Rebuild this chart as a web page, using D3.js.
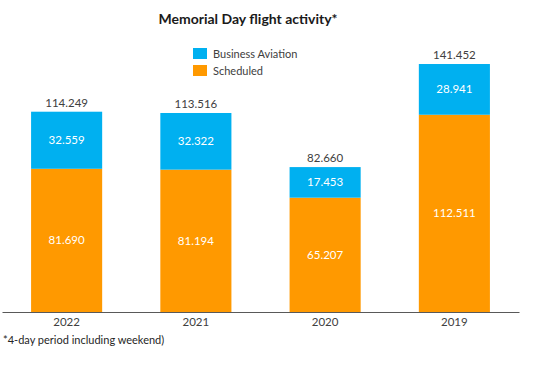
<!DOCTYPE html>
<html>
<head>
<meta charset="utf-8">
<script src="https://cdn.jsdelivr.net/npm/d3@7"></script>
<style>
  body { margin: 0; background: #fff; }
  svg { font-family: Lato, "Open Sans", sans-serif; }
</style>
</head>
<body>
<svg id="chart"></svg>
<script>
const years = ["2022", "2021", "2020", "2019"];
const scheduled = [81.690, 81.194, 65.207, 112.511];
const business = [32.559, 32.322, 17.453, 28.941];
const totals = [114.249, 113.516, 82.660, 141.452];
const seriesNames = ["Business Aviation", "Scheduled"];

const width = 550;
const height = 370;
const colors = { scheduled: "#FF9900", business: "#00B0F0" };

const svg = d3.select("#chart").attr("width", width).attr("height", height);

const fmt = (v) => v.toFixed(3);

const x = d3.scaleBand().domain(years).range([2, 519]).paddingInner(0.45).paddingOuter(0.225);
const y = d3.scaleLinear().domain([0, 160]).range([312, 31.5]);

const rows = years.map((yr, i) => ({ year: yr, scheduled: scheduled[i], business: business[i], total: totals[i] }));
const stack = d3.stack().keys(["scheduled", "business"])(rows);

// title
svg.append("text")
  .attr("x", 248).attr("y", 24)
  .attr("text-anchor", "middle")
  .attr("font-size", 14).attr("font-weight", "bold")
  .attr("fill", "#1a1a1a")
  .text("Memorial Day flight activity*");

// bars
stack.forEach((layer) => {
  const g = svg.append("g").attr("fill", colors[layer.key]);
  g.selectAll("rect")
    .data(layer)
    .enter()
    .append("rect")
    .attr("x", (d) => x(d.data.year))
    .attr("y", (d) => y(d[1]))
    .attr("width", x.bandwidth())
    .attr("height", (d) => y(d[0]) - y(d[1]));

  svg.append("g").selectAll("text")
    .data(layer)
    .enter()
    .append("text")
    .attr("x", (d) => x(d.data.year) + x.bandwidth() / 2)
    .attr("y", (d) => (y(d[0]) + y(d[1])) / 2 + 4)
    .attr("text-anchor", "middle")
    .attr("font-size", 11.5)
    .attr("fill", "#fff")
    .text((d) => fmt(d[1] - d[0]));
});

// totals
svg.append("g").selectAll("text")
  .data(rows)
  .enter()
  .append("text")
  .attr("x", (d) => x(d.year) + x.bandwidth() / 2)
  .attr("y", (d) => y(d.total) - 5)
  .attr("text-anchor", "middle")
  .attr("font-size", 11.5)
  .attr("fill", "#404040")
  .text((d) => fmt(d.total));

// x axis
const xAxis = svg.append("g")
  .attr("transform", "translate(0,312)")
  .call(d3.axisBottom(x).tickSize(0).tickPadding(6));
xAxis.select(".domain").attr("stroke", "#595959").attr("stroke-width", 1.2);
xAxis.selectAll("text").attr("font-size", 11.5).attr("fill", "#404040").attr("font-family", "Lato, sans-serif");

// legend
const legendColors = [colors.business, colors.scheduled];
const legend = svg.append("g");
legend.selectAll("rect")
  .data(seriesNames)
  .enter()
  .append("rect")
  .attr("x", 193)
  .attr("y", (d, i) => 48 + i * 17)
  .attr("width", 14)
  .attr("height", 11)
  .attr("fill", (d, i) => legendColors[i]);
legend.selectAll("text")
  .data(seriesNames)
  .enter()
  .append("text")
  .attr("x", 213)
  .attr("y", (d, i) => 57.5 + i * 17)
  .attr("font-size", 11)
  .attr("fill", "#404040")
  .text((d) => d);

// footnote
svg.append("text")
  .attr("x", 3).attr("y", 344)
  .attr("font-size", 11)
  .attr("fill", "#262626")
  .text("*4-day period including weekend)");
</script>
</body>
</html>
